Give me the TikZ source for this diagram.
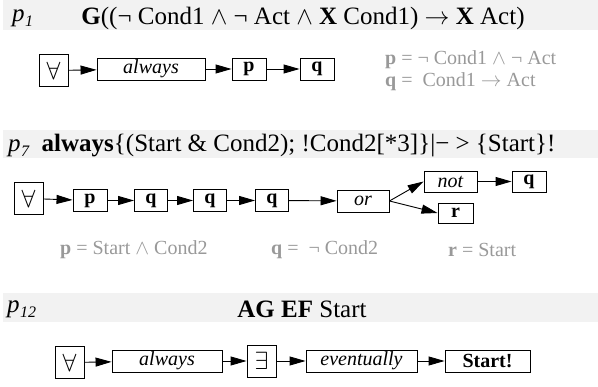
\documentclass[tikz,border=0pt]{standalone}
\usepackage{fontspec}
\setmainfont{Liberation Serif}
\usetikzlibrary{arrows.meta}
\definecolor{band}{HTML}{F2F2F2}
\definecolor{lbl}{HTML}{999999}
\tikzset{
 box/.style={draw, line width=0.9pt, inner sep=0pt, minimum height=22pt, font=\fontsize{20}{20}\selectfont},
 qbox/.style={box, minimum width=29pt, minimum height=32pt, font=\fontsize{31}{31}\selectfont},
 arr/.style={-{Triangle[length=16pt,width=9pt]}, line width=0.9pt},
 title/.style={font=\fontsize{25}{25}\selectfont, inner sep=0pt},
 lab/.style={text=lbl, font=\fontsize{20}{20}\selectfont, inner sep=0pt, anchor=west},
}
\newcommand{\sub}[1]{\kern0.5pt\raisebox{-5pt}{\fontsize{16}{16}\selectfont\itshape #1}}
\begin{document}
\begin{tikzpicture}[x=1pt,y=-1pt]
\useasboundingbox (0,0) rectangle (598,387);
\fill[band] (3,0) rectangle (598,30);
\fill[band] (3,130) rectangle (598,158);
\fill[band] (3,293) rectangle (598,322);
% row 1
\node[title, anchor=west] (t1p) at (12,18.5) {\textit{p}\sub{1}};
\node[title] (t1) at (303,18.5) {\textbf{G}((¬ Cond1 $\wedge$ ¬ Act $\wedge$ \textbf{X} Cond1) $\rightarrow$ \textbf{X} Act)};
\node[qbox] (a1) at (53.5,70.5) {$\forall$};
\node[box, minimum width=108pt] (a2) at (151,69) {\textit{always}};
\node[box, minimum width=34pt] (a3) at (249,69) {\textbf{p}};
\node[box, minimum width=34pt] (a4) at (317,69) {\textbf{q}};
\draw[arr] (a1) -- (a2);
\draw[arr] (a2) -- (a3);
\draw[arr] (a3) -- (a4);
\node[lab] (l1) at (385,60) {\textbf{p} = ¬ Cond1 $\wedge$ ¬ Act};
\node[lab] (l2) at (385,82) {\textbf{q} =\enspace Cond1 $\rightarrow$ Act};
% row 2
\node[title, anchor=west] (t2) at (8,145.5) {\textit{p}\sub{7}\enspace\textbf{always}\{(Start \& Cond2); !Cond2[*3]\}|− > \{Start\}!};
\node[qbox] (b1) at (28.5,198.5) {$\forall$};
\node[box, minimum width=34pt] (b2) at (90,200.5) {\textbf{p}};
\node[box, minimum width=33pt] (b3) at (151,200.5) {\textbf{q}};
\node[box, minimum width=33pt] (b4) at (210,200.5) {\textbf{q}};
\node[box, minimum width=33pt] (b5) at (272,200.5) {\textbf{q}};
\node[box, minimum width=52pt] (b6) at (363,201) {\textit{or}};
\node[box, minimum width=53pt, minimum height=21pt] (b7) at (450.5,181.5) {\textit{not}};
\node[box, minimum width=34pt, minimum height=21pt] (b8) at (529,181.5) {\textbf{q}};
\node[box, minimum width=35pt, minimum height=20pt] (b9) at (455.5,213) {\textbf{r}};
\draw[arr] (b1) -- (b2);
\draw[arr] (b2) -- (b3);
\draw[arr] (b3) -- (b4);
\draw[arr] (b4) -- (b5);
\draw[arr] (b5) -- (b6);
\draw[arr] (b6.east) -- (b7.west);
\draw[arr] (b7) -- (b8);
\draw[arr] (b6.east) -- (b9.west);
\node[lab] (l3) at (60,250) {\textbf{p} = Start $\wedge$ Cond2};
\node[lab] (l4) at (271,250) {\textbf{q} =\enspace ¬ Cond2};
\node[lab] (l5) at (448,250) {\textbf{r} = Start};
% row 3
\node[title, anchor=west] (t3p) at (7,309) {\textit{p}\sub{12}};
\node[title] (t3) at (302,309) {\textbf{AG EF} Start};
\node[qbox] (c1) at (69.5,362.5) {$\forall$};
\node[box, minimum width=110pt] (c2) at (167,361) {\textit{always}};
\node[qbox] (c3) at (261.5,361) {$\exists$};
\node[box, minimum width=111pt] (c4) at (361.5,361) {\textit{eventually}};
\node[box, minimum width=85pt] (c5) at (487.5,361) {\textbf{Start!}};
\draw[arr] (c1) -- (c2);
\draw[arr] (c2) -- (c3);
\draw[arr] (c3) -- (c4);
\draw[arr] (c4) -- (c5);
\end{tikzpicture}
\end{document}
